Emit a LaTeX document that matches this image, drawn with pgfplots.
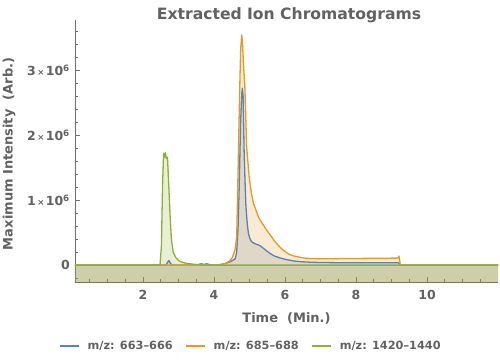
\documentclass[border=0pt]{standalone}
\usepackage{pgfplots}
\pgfplotsset{compat=1.18}
\usepackage{pgfplotstable}
\usepackage{fontspec}
\setmainfont{DejaVu Sans}
\definecolor{mblue}{HTML}{5E81B5}
\definecolor{morange}{HTML}{E19C24}
\definecolor{mgreen}{HTML}{8FB032}
\definecolor{tgray}{HTML}{626262}
\definecolor{agray}{HTML}{707070}

\pgfplotstableread{
t v
0.085 0
2.25 0
2.3 0.01
2.35 0
2.65 0
2.7 0.05
2.73 0.07
2.77 0.03
2.82 0
3.5 0
3.6 0.015
3.65 0.02
3.7 0.01
3.8 0.02
3.9 0.005
4.0 0
4.2 0.01
4.35 0.03
4.45 0.05
4.55 0.08
4.6 0.1
4.64 0.2
4.68 0.6
4.71 1.2
4.75 2.2
4.78 2.62
4.80 2.72
4.82 2.6
4.85 1.72
4.88 1.2
4.90 0.9
4.94 0.62
4.97 0.49
5.01 0.41
5.06 0.36
5.15 0.33
5.25 0.31
5.32 0.29
5.39 0.26
5.48 0.22
5.58 0.18
5.7 0.14
5.86 0.11
6.0 0.09
6.23 0.065
6.45 0.052
6.7 0.045
7.0 0.04
7.5 0.037
8.0 0.036
8.5 0.035
9.0 0.036
9.2 0.037
9.24 0.0
12 0
}\bluedata

\pgfplotstableread{
t v
0.085 0
4.0 0
4.2 0.01
4.35 0.03
4.45 0.07
4.52 0.12
4.59 0.23
4.64 0.44
4.68 1.5
4.72 2.6
4.75 3.3
4.78 3.54
4.80 3.45
4.83 3.1
4.87 2.74
4.92 1.82
4.99 1.36
5.05 1.12
5.11 0.95
5.18 0.85
5.25 0.74
5.35 0.65
5.48 0.54
5.6 0.45
5.72 0.36
5.85 0.28
5.95 0.23
6.1 0.17
6.25 0.14
6.42 0.12
6.6 0.105
6.89 0.10
7.2 0.098
7.5 0.10
8.0 0.102
8.5 0.105
9.0 0.107
9.18 0.108
9.21 0.14
9.25 0
12 0
}\orangedata

\pgfplotstableread{
t v
0.085 0
2.48 0
2.52 0.3
2.55 1.2
2.58 1.72
2.61 1.66
2.63 1.73
2.66 1.64
2.69 1.66
2.72 1.3
2.76 0.8
2.8 0.4
2.85 0.2
2.92 0.12
3.0 0.07
3.1 0.045
3.2 0.03
3.4 0.015
3.6 0.005
3.8 0
12 0
}\greendata

\newcommand{\tsix}[1]{#1{\fontsize{8.5}{10}\selectfont\,×\,}10\textsuperscript{6}}

\begin{document}
\begin{tikzpicture}
\begin{axis}[
  scale only axis, width=423pt, height=262pt,
  xmin=0.085, xmax=12, ymin=-0.26, ymax=3.77,
  axis x line*=bottom, axis y line*=left,
  axis line style={agray, line width=0.8pt, -},
  tick align=inside,
  major tick length=5pt, minor tick length=3pt,
  tick style={agray, line width=0.6pt},
  xtick={2,4,6,8,10},
  minor xtick={0.5,1,1.5,2.5,3,3.5,4.5,5,5.5,6.5,7,7.5,8.5,9,9.5,10.5,11,11.5},
  ytick={0,1,2,3},
  minor ytick={-0.2,0.2,0.4,0.6,0.8,1.2,1.4,1.6,1.8,2.2,2.4,2.6,2.8,3.2,3.4,3.6},
  yticklabels={0, \tsix{1}, \tsix{2}, \tsix{3}},
  xticklabels={2,4,6,8,10},
  ticklabel style={font=\fontsize{12.5}{15}\selectfont\bfseries, text=tgray},
  xticklabel style={anchor=base, yshift=-17.3pt, inner sep=0pt},
  yticklabel style={anchor=east, xshift=-5pt, inner sep=0pt},
  xlabel={Time\ \ (Min.)},
  ylabel={Maximum Intensity\ \ (Arb.)},
  label style={font=\fontsize{13}{15}\selectfont\bfseries, text=tgray},
  xlabel style={at={(axis description cs:0.5,0)}, anchor=base, yshift=-40.5pt, inner sep=0pt},
  ylabel style={at={(axis description cs:-0.156,0.489)}, anchor=center, inner sep=0pt},
  title={Extracted Ion Chromatograms},
  title style={font=\fontsize{15.6}{17}\selectfont\bfseries, text=tgray, at={(axis description cs:0.5,1)}, anchor=base, xshift=2.5pt, yshift=-6pt, inner sep=0pt},
  legend columns=3,
  legend style={at={(axis description cs:0.4137,-0.2443)}, anchor=center, draw=none, fill=none,
    font=\fontsize{11.3}{13}\selectfont\bfseries, text=tgray, inner sep=0pt,
    nodes={inner sep=0pt},
    /tikz/every odd column/.append style={column sep=8pt},
    /tikz/every even column/.append style={column sep=12.7pt}},
  legend image code/.code={\draw[#1, line width=1.3pt] (0pt,0pt) -- (19pt,0pt);},
  clip=true,
]
\addplot[draw=none, fill=mblue, fill opacity=0.2, forget plot] table[x=t,y=v] {\bluedata} -- (axis cs:12,-0.26) -- (axis cs:0.085,-0.26) -- cycle;
\addplot[draw=none, fill=morange, fill opacity=0.2, forget plot] table[x=t,y=v] {\orangedata} -- (axis cs:12,-0.26) -- (axis cs:0.085,-0.26) -- cycle;
\addplot[draw=none, fill=mgreen, fill opacity=0.2, forget plot] table[x=t,y=v] {\greendata} -- (axis cs:12,-0.26) -- (axis cs:0.085,-0.26) -- cycle;
\addplot[mblue, line width=1.3pt, line join=round] table[x=t,y=v] {\bluedata};
\addlegendentry{m/z: 663–666}
\addplot[morange, line width=1.3pt, line join=round] table[x=t,y=v] {\orangedata};
\addlegendentry{m/z: 685–688}
\addplot[mgreen, line width=1.3pt, line join=round] table[x=t,y=v] {\greendata};
\addlegendentry{m/z: 1420–1440}
\end{axis}
\pgfresetboundingbox
\path (current axis.south west) ++(-75pt,-78pt) rectangle ++(500pt,360pt);
\end{tikzpicture}
\end{document}
